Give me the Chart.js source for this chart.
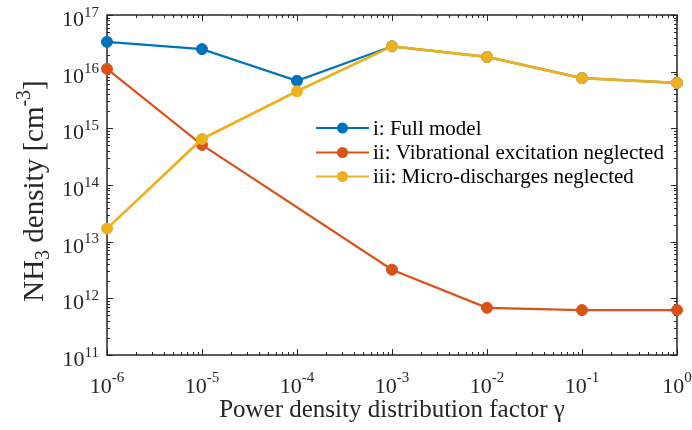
<!DOCTYPE html>
<html>
<head>
<meta charset="utf-8">
<script src="https://cdn.jsdelivr.net/npm/chart.js@4.4.1/dist/chart.umd.min.js"></script>
<style>
  html, body { margin: 0; padding: 0; background: #fff; }
  canvas { display: block; }
</style>
</head>
<body>
<canvas id="chart" width="692" height="430"></canvas>
<script>
// ---- data ----
const gammaValues = [1e-6, 1e-5, 1e-4, 1e-3, 1e-2, 1e-1, 1];

const fullModel      = [3.35e16, 2.5e16, 6.9e15, 2.8e16, 1.82e16, 7.7e15, 6.35e15];
const vibNeglectedX  = [1e-6, 1e-5, 1e-3, 1e-2, 1e-1, 1];
const vibNeglected   = [1.12e16, 5.1e14, 3.2e12, 6.8e11, 6.2e11, 6.2e11];
const microNeglected = [1.7e13, 6.5e14, 4.5e15, 2.8e16, 1.82e16, 7.7e15, 6.35e15];

const seriesLabels = [
  "i: Full model",
  "ii: Vibrational excitation neglected",
  "iii: Micro-discharges neglected",
];
const seriesColors = ["#0072BD", "#D95319", "#EDB120"];

// ticks
const xTickExp = [-6, -5, -4, -3, -2, -1, 0];
const yTickExp = [11, 12, 13, 14, 15, 16, 17];

const AXIS_COLOR = "#262626";
const FONT = '"Liberation Serif", "Times New Roman", serif';

function toXY(xs, ys) {
  return ys.map((y, i) => ({ x: xs[i], y: y }));
}

// "10" with a raised exponent
function drawPow(ctx, exp, x, baseY, expY, align, baseSize, expSize) {
  ctx.font = baseSize + "px " + FONT;
  const wb = ctx.measureText("10").width;
  ctx.font = expSize + "px " + FONT;
  const we = ctx.measureText(String(exp)).width;
  const total = wb + we;
  let start = x - total / 2;
  if (align === "right") start = x - total;
  ctx.textAlign = "left";
  ctx.textBaseline = "alphabetic";
  ctx.font = baseSize + "px " + FONT;
  ctx.fillText("10", start, baseY);
  ctx.font = expSize + "px " + FONT;
  ctx.fillText(String(exp), start + wb, expY);
}

// ---- frame + inward ticks (under the data), text + legend on top ----
const framePlugin = {
  id: "frame",
  beforeDatasetsDraw(chart) {
    const { ctx, chartArea: a, scales } = chart;
    const xs = scales.x, ys = scales.y;
    ctx.save();
    ctx.strokeStyle = AXIS_COLOR;
    ctx.lineWidth = 1;

    ctx.beginPath();
    xTickExp.forEach((e, idx) => {
      const px = Math.round(xs.getPixelForValue(Math.pow(10, e))) + 0.5;
      ctx.moveTo(px, a.bottom); ctx.lineTo(px, a.bottom - 6);
      ctx.moveTo(px, a.top); ctx.lineTo(px, a.top + 6);
      if (idx < xTickExp.length - 1) {
        for (let m = 2; m <= 9; m++) {
          const p = Math.round(xs.getPixelForValue(m * Math.pow(10, e))) + 0.5;
          ctx.moveTo(p, a.bottom); ctx.lineTo(p, a.bottom - 3);
          ctx.moveTo(p, a.top); ctx.lineTo(p, a.top + 3);
        }
      }
    });
    yTickExp.forEach((e, idx) => {
      const py = Math.round(ys.getPixelForValue(Math.pow(10, e))) + 0.5;
      ctx.moveTo(a.left, py); ctx.lineTo(a.left + 6, py);
      ctx.moveTo(a.right, py); ctx.lineTo(a.right - 6, py);
      if (idx < yTickExp.length - 1) {
        for (let m = 2; m <= 9; m++) {
          const p = Math.round(ys.getPixelForValue(m * Math.pow(10, e))) + 0.5;
          ctx.moveTo(a.left, p); ctx.lineTo(a.left + 3, p);
          ctx.moveTo(a.right, p); ctx.lineTo(a.right - 3, p);
        }
      }
    });
    ctx.stroke();

    ctx.lineWidth = 1.5;
    ctx.strokeRect(a.left, a.top, a.right - a.left, a.bottom - a.top);
    ctx.restore();
  },
  afterDraw(chart) {
    const { ctx, chartArea: a, scales } = chart;
    const xs = scales.x, ys = scales.y;
    ctx.save();
    ctx.fillStyle = AXIS_COLOR;

    xTickExp.forEach(e => {
      const px = xs.getPixelForValue(Math.pow(10, e));
      drawPow(ctx, e, px, a.bottom + 38, a.bottom + 27, "center", 22, 15);
    });
    yTickExp.forEach(e => {
      const py = ys.getPixelForValue(Math.pow(10, e));
      drawPow(ctx, e, a.left - 8, py + 11, py + 1.5, "right", 22, 15);
    });

    // x title
    ctx.font = "25px " + FONT;
    ctx.textAlign = "center";
    ctx.textBaseline = "alphabetic";
    ctx.fillText("Power density distribution factor \u03B3", (a.left + a.right) / 2, a.bottom + 62);

    // y title, NH3 with subscript, cm-3 with superscript
    const parts = [
      { t: "NH", size: 29, dy: 0 },
      { t: "3", size: 20, dy: 6 },
      { t: " density [cm", size: 29, dy: 0 },
      { t: "-3", size: 20, dy: -13 },
      { t: "]", size: 29, dy: 0 },
    ];
    let total = 0;
    parts.forEach(p => { ctx.font = p.size + "px " + FONT; p.w = ctx.measureText(p.t).width; total += p.w; });
    ctx.translate(43, 191);
    ctx.rotate(-Math.PI / 2);
    ctx.textAlign = "left";
    let cx = -total / 2;
    parts.forEach(p => {
      ctx.font = p.size + "px " + FONT;
      ctx.fillText(p.t, cx, p.dy);
      cx += p.w;
    });
    ctx.restore();

    // legend
    ctx.save();
    const rows = [128, 152.5, 176.5];
    seriesLabels.forEach((label, i) => {
      const y = rows[i];
      ctx.strokeStyle = seriesColors[i];
      ctx.fillStyle = seriesColors[i];
      ctx.lineWidth = 2.2;
      ctx.beginPath();
      ctx.moveTo(316, y); ctx.lineTo(369, y);
      ctx.stroke();
      ctx.beginPath();
      ctx.arc(342.5, y, 5.5, 0, Math.PI * 2);
      ctx.fill();
      ctx.fillStyle = "#000";
      ctx.font = "21px " + FONT;
      ctx.textAlign = "left";
      ctx.textBaseline = "middle";
      ctx.fillText(label, 373, y + 1);
    });
    ctx.restore();
  }
};

function makeDataset(i, points, order, width) {
  return {
    label: seriesLabels[i],
    data: points,
    borderColor: seriesColors[i],
    backgroundColor: seriesColors[i],
    pointBackgroundColor: seriesColors[i],
    pointBorderColor: seriesColors[i],
    borderWidth: width,
    pointRadius: 5.5,
    pointBorderWidth: 1,
    tension: 0,
    clip: false,
    order: order,
  };
}

new Chart(document.getElementById("chart"), {
  type: "line",
  data: {
    datasets: [
      makeDataset(0, toXY(gammaValues, fullModel), 2, 2.2),
      makeDataset(1, toXY(vibNeglectedX, vibNeglected), 1, 2.2),
      makeDataset(2, toXY(gammaValues, microNeglected), 0, 2.7),
    ],
  },
  options: {
    responsive: false,
    devicePixelRatio: 1,
    animation: false,
    layout: { padding: { left: 107, right: 15, top: 15, bottom: 75 } },
    plugins: { legend: { display: false }, tooltip: { enabled: false } },
    scales: {
      x: { type: "logarithmic", min: 1e-6, max: 1, display: false },
      y: { type: "logarithmic", min: 1e11, max: 1e17, display: false },
    },
  },
  plugins: [framePlugin],
});
</script>
</body>
</html>
